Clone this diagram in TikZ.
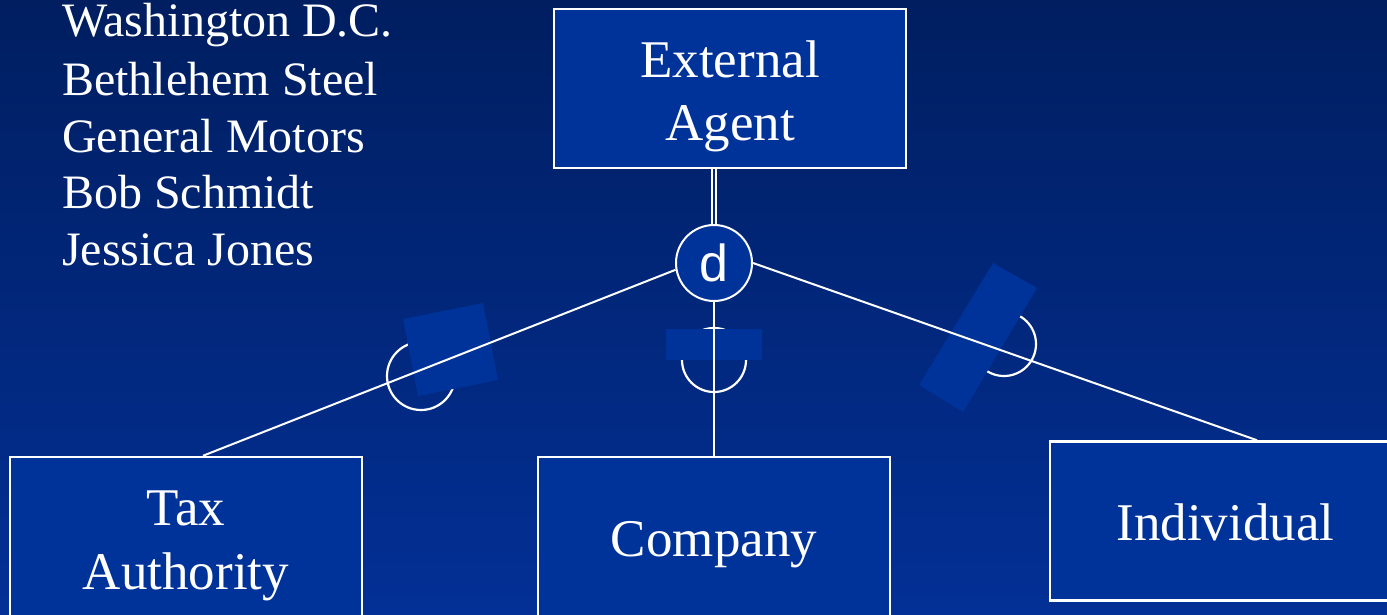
\documentclass[tikz,border=0pt]{standalone}
\usepackage{fontspec}
\setmainfont{Liberation Serif}
\newfontfamily\dsans{Liberation Sans}
\definecolor{bgtop}{RGB}{0,30,96}
\definecolor{bgbot}{RGB}{3,48,150}
\definecolor{bgmid}{RGB}{1,38,116}
\definecolor{boxblue}{RGB}{0,51,153}
\begin{document}
\begin{tikzpicture}[x=1pt,y=-1pt,
  entity/.style={draw=white, line width=2.5pt, fill=boxblue, minimum width=352pt, minimum height=159pt, inner sep=0pt},
  lbl/.style={text=white, font=\fontsize{53}{60}\selectfont, anchor=base, inner sep=0pt},
  listtext/.style={text=white, font=\fontsize{48}{57}\selectfont, anchor=base west, inner sep=0pt},
  conn/.style={draw=white, line width=2pt},
  mask/.style={fill=boxblue},
  subarc/.style={draw=white, line width=2.2pt},
  disjoint/.style={circle, draw=white, line width=2pt, fill=boxblue, minimum size=76pt, inner sep=0pt, text=white, font=\dsans\fontsize{52}{52}\selectfont},
]
\useasboundingbox (0,0) rectangle (1387,614);
\clip (0,0) rectangle (1387,614);
\shade[top color=bgtop, bottom color=bgbot] (0,0) rectangle (1387,614);

% subset arcs with their masks
\draw[subarc] (421,376) circle[radius=34pt];
\fill[mask] (403,319) -- (483,303) -- (498,380) -- (418,396) -- cycle;
\draw[subarc] (714,360) circle[radius=32pt];
\fill[mask] (666,328.8) rectangle (762,360);
\draw[subarc] (1004,344) circle[radius=32pt];
\fill[mask] (993,263) -- (1037,288) -- (963,412) -- (919,385) -- cycle;

% entities
\node[entity] (ext) at (730,88.5) {};
\node[entity] (tax) at (186,536.5) {};
\node[entity] (comp) at (714,536.5) {};
\node[entity] (ind) at (1226,521) {};
\node[disjoint] (d) at (714,263) {d};

% connectors
\draw[draw=white, line width=1.8pt, double=bgmid, double distance=2.4pt] (d.north) -- (d.north |- ext.south);
\draw[conn] (d.190) -- ([xshift=17pt]tax.north);
\draw[conn] (d.south) -- (comp.north);
\draw[conn] (d.east) -- ([xshift=31pt]ind.north);

% labels
\node[lbl] (extl1) at (730,77) {External};
\node[lbl] (extl2) at (730,140) {Agent};
\node[lbl] (taxl1) at (186,525.7) {Tax};
\node[lbl] (taxl2) at (186,589) {Authority};
\node[lbl] (compl) at (714,556.7) {Company};
\node[lbl] (indl) at (1225.5,540) {Individual};

% list of examples
\node[listtext] (ex1) at (62,36) {Washington D.C.};
\node[listtext] (ex2) at (62,95) {Bethlehem Steel};
\node[listtext] (ex3) at (62,152) {General Motors};
\node[listtext] (ex4) at (62,208) {Bob Schmidt};
\node[listtext] (ex5) at (62,265) {Jessica Jones};
\end{tikzpicture}
\end{document}
